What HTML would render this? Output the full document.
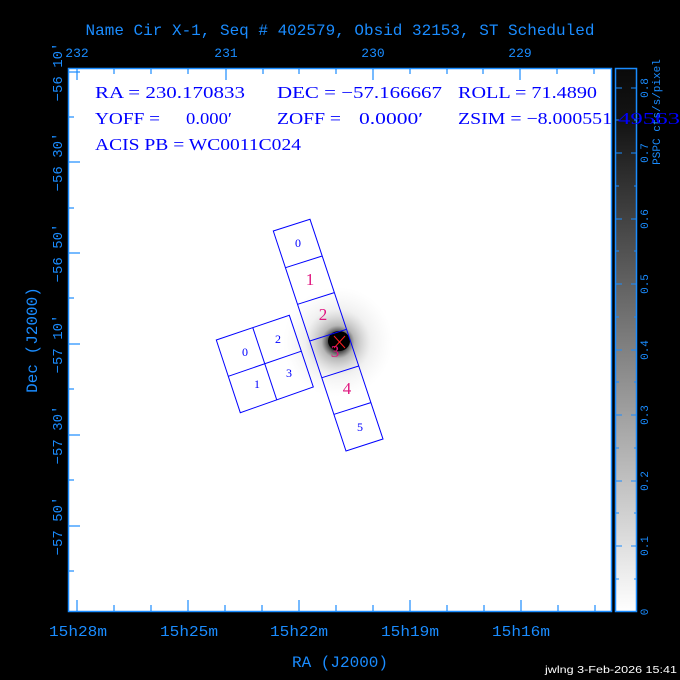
<!DOCTYPE html>
<html><head><meta charset="utf-8"><style>
html,body{margin:0;padding:0;background:#000;}
svg{display:block;}
</style></head><body>
<svg width="680" height="680" viewBox="0 0 680 680" xmlns="http://www.w3.org/2000/svg">
<defs>
<radialGradient id="halo" cx="0.5" cy="0.5" r="0.5">
<stop offset="0" stop-color="#000" stop-opacity="0.9"/>
<stop offset="0.15" stop-color="#000" stop-opacity="0.85"/>
<stop offset="0.3" stop-color="#333" stop-opacity="0.35"/>
<stop offset="0.6" stop-color="#888" stop-opacity="0.12"/>
<stop offset="1" stop-color="#bbb" stop-opacity="0"/>
</radialGradient>
<linearGradient id="cb" x1="0" y1="1" x2="0" y2="0">
<stop offset="0" stop-color="#fff"/>
<stop offset="0.9" stop-color="#141414"/>
<stop offset="1" stop-color="#0a0a0a"/>
</linearGradient>
</defs>
<rect width="680" height="680" fill="#000"/>
<text x="340" y="35" text-anchor="middle" font-family="Liberation Mono, monospace" font-size="16" fill="#1a8cff">Name Cir X-1, Seq # 402579, Obsid 32153, ST Scheduled</text>
<rect x="68.5" y="68.5" width="543" height="543" fill="#fff" stroke="#1a8cff" stroke-width="1.5"/>
<circle cx="338" cy="342" r="55" fill="url(#halo)"/>
<ellipse cx="339" cy="341" rx="11" ry="10" fill="#000"/>
<g stroke="#1a8cff" stroke-width="1.2">
<line x1="77" y1="611" x2="77" y2="600"/><line x1="188" y1="611" x2="188" y2="600"/><line x1="299" y1="611" x2="299" y2="600"/><line x1="410" y1="611" x2="410" y2="600"/><line x1="521" y1="611" x2="521" y2="600"/>
<line x1="114" y1="611" x2="114" y2="605"/><line x1="151" y1="611" x2="151" y2="605"/><line x1="225" y1="611" x2="225" y2="605"/><line x1="262" y1="611" x2="262" y2="605"/><line x1="336" y1="611" x2="336" y2="605"/><line x1="373" y1="611" x2="373" y2="605"/><line x1="447" y1="611" x2="447" y2="605"/><line x1="484" y1="611" x2="484" y2="605"/><line x1="558" y1="611" x2="558" y2="605"/><line x1="595" y1="611" x2="595" y2="605"/>
<line x1="77" y1="69" x2="77" y2="80"/><line x1="226" y1="69" x2="226" y2="80"/><line x1="373" y1="69" x2="373" y2="80"/><line x1="520" y1="69" x2="520" y2="80"/>
<line x1="114" y1="69" x2="114" y2="74"/><line x1="151" y1="69" x2="151" y2="74"/><line x1="188" y1="69" x2="188" y2="74"/><line x1="263" y1="69" x2="263" y2="74"/><line x1="299" y1="69" x2="299" y2="74"/><line x1="336" y1="69" x2="336" y2="74"/><line x1="410" y1="69" x2="410" y2="74"/><line x1="447" y1="69" x2="447" y2="74"/><line x1="483" y1="69" x2="483" y2="74"/><line x1="557" y1="69" x2="557" y2="74"/><line x1="594" y1="69" x2="594" y2="74"/>
<line x1="69" y1="72" x2="80" y2="72"/><line x1="69" y1="162" x2="80" y2="162"/><line x1="69" y1="253" x2="80" y2="253"/><line x1="69" y1="344" x2="80" y2="344"/><line x1="69" y1="435" x2="80" y2="435"/><line x1="69" y1="526" x2="80" y2="526"/>
<line x1="69" y1="117" x2="74" y2="117"/><line x1="69" y1="208" x2="74" y2="208"/><line x1="69" y1="298" x2="74" y2="298"/><line x1="69" y1="389" x2="74" y2="389"/><line x1="69" y1="480" x2="74" y2="480"/><line x1="69" y1="571" x2="74" y2="571"/>
</g>
<g fill="none" stroke="#0000ff" stroke-width="1">
<polygon points="273.3,231 310,219.3 383,439 346,451"/>
<line x1="285.5" y1="267.7" x2="322.2" y2="256"/>
<line x1="297.6" y1="304.3" x2="334.3" y2="292.6"/>
<line x1="309.8" y1="341" x2="346.5" y2="329.3"/>
<line x1="322" y1="377.7" x2="358.7" y2="366"/>
<line x1="334.1" y1="414.3" x2="370.8" y2="402.6"/>
<polygon points="216.3,340 289.3,315.3 313.3,387 240.3,412.7"/>
<line x1="252.8" y1="327.7" x2="276.8" y2="400"/>
<line x1="228.3" y1="376.3" x2="301.3" y2="351.2"/>
</g>
<g stroke="#ff2020" stroke-width="1"><line x1="334" y1="336" x2="345" y2="348"/><line x1="345" y1="336" x2="334" y2="348"/></g>
<g font-family="Liberation Serif, serif" text-anchor="middle">
<text x="298" y="247" font-size="12" fill="#0000ff">0</text>
<text x="310" y="285" font-size="17" fill="#e0157f">1</text>
<text x="323" y="320" font-size="17" fill="#e0157f">2</text>
<text x="335" y="357" font-size="17" fill="#e0157f">3</text>
<text x="347" y="394" font-size="17" fill="#e0157f">4</text>
<text x="360" y="431" font-size="12" fill="#0000ff">5</text>
<text x="245" y="356" font-size="12" fill="#0000ff">0</text>
<text x="278" y="343" font-size="12" fill="#0000ff">2</text>
<text x="257" y="388" font-size="12" fill="#0000ff">1</text>
<text x="289" y="377" font-size="12" fill="#0000ff">3</text>
</g>
<rect x="615.5" y="68.5" width="21" height="543" fill="url(#cb)" stroke="#1a8cff" stroke-width="1.5"/>
<g stroke="#1a8cff" stroke-width="1">
<path d="M616 546h6M616 481h6M616 415h6M616 350h6M616 284h6M616 219h6M616 153h6M616 88h6M631 546h6M631 481h6M631 415h6M631 350h6M631 284h6M631 219h6M631 153h6M631 88h6"/>
<path d="M616 579h3M616 513h3M616 448h3M616 382h3M616 317h3M616 251h3M616 186h3M616 120h3M634 579h3M634 513h3M634 448h3M634 382h3M634 317h3M634 251h3M634 186h3M634 120h3"/>
</g>
<g font-family="Liberation Mono, monospace" font-size="11" fill="#1a8cff">
<text transform="translate(648,612) rotate(-90)" text-anchor="middle">0</text>
<text transform="translate(648,546) rotate(-90)" text-anchor="middle">0.1</text>
<text transform="translate(648,481) rotate(-90)" text-anchor="middle">0.2</text>
<text transform="translate(648,415) rotate(-90)" text-anchor="middle">0.3</text>
<text transform="translate(648,350) rotate(-90)" text-anchor="middle">0.4</text>
<text transform="translate(648,284) rotate(-90)" text-anchor="middle">0.5</text>
<text transform="translate(648,219) rotate(-90)" text-anchor="middle">0.6</text>
<text transform="translate(648,153) rotate(-90)" text-anchor="middle">0.7</text>
<text transform="translate(648,88) rotate(-90)" text-anchor="middle">0.8</text>
<text transform="translate(660,112) rotate(-90)" text-anchor="middle">PSPC cts/s/pixel</text>
</g>
<g font-family="Liberation Serif, serif" font-size="17" fill="#0000ff">
<text x="95" y="98" textLength="150" lengthAdjust="spacingAndGlyphs">RA = 230.170833</text>
<text x="277" y="98" textLength="165" lengthAdjust="spacingAndGlyphs">DEC = −57.166667</text>
<text x="458" y="98" textLength="139" lengthAdjust="spacingAndGlyphs">ROLL = 71.4890</text>
<text x="95" y="124" textLength="65" lengthAdjust="spacingAndGlyphs">YOFF =</text>
<text x="186" y="124" textLength="46" lengthAdjust="spacingAndGlyphs">0.000′</text>
<text x="277" y="124" textLength="64" lengthAdjust="spacingAndGlyphs">ZOFF =</text>
<text x="359" y="124" textLength="64" lengthAdjust="spacingAndGlyphs">0.0000′</text>
<text x="458" y="124" textLength="154" lengthAdjust="spacingAndGlyphs">ZSIM = −8.000551</text>
<text x="618" y="124" textLength="62" lengthAdjust="spacingAndGlyphs">49563</text>
<text x="95" y="150" textLength="206" lengthAdjust="spacingAndGlyphs">ACIS PB = WC0011C024</text>
</g>
<g font-family="Liberation Mono, monospace" font-size="14" fill="#1a8cff">
<text x="77" y="57" text-anchor="middle" font-size="13">232</text>
<text x="226" y="57" text-anchor="middle" font-size="13">231</text>
<text x="373" y="57" text-anchor="middle" font-size="13">230</text>
<text x="520" y="57" text-anchor="middle" font-size="13">229</text>
<text x="49" y="636" font-size="15" textLength="58" lengthAdjust="spacingAndGlyphs">15h28m</text>
<text x="160" y="636" font-size="15" textLength="58" lengthAdjust="spacingAndGlyphs">15h25m</text>
<text x="270" y="636" font-size="15" textLength="58" lengthAdjust="spacingAndGlyphs">15h22m</text>
<text x="381" y="636" font-size="15" textLength="58" lengthAdjust="spacingAndGlyphs">15h19m</text>
<text x="492" y="636" font-size="15" textLength="58" lengthAdjust="spacingAndGlyphs">15h16m</text>
<text x="340" y="667" text-anchor="middle" font-size="16">RA (J2000)</text>
<text transform="translate(37,340) rotate(-90)" text-anchor="middle" font-size="16">Dec (J2000)</text>
<text transform="translate(62,72) rotate(-90)" text-anchor="middle">−56 10′</text>
<text transform="translate(62,162) rotate(-90)" text-anchor="middle">−56 30′</text>
<text transform="translate(62,253) rotate(-90)" text-anchor="middle">−56 50′</text>
<text transform="translate(62,344) rotate(-90)" text-anchor="middle">−57 10′</text>
<text transform="translate(62,435) rotate(-90)" text-anchor="middle">−57 30′</text>
<text transform="translate(62,526) rotate(-90)" text-anchor="middle">−57 50′</text>
</g>
<text x="545" y="673" textLength="132" lengthAdjust="spacingAndGlyphs" font-family="Liberation Sans, sans-serif" font-size="10" fill="#fff">jwlng  3-Feb-2026 15:41</text>
</svg>
</body></html>
